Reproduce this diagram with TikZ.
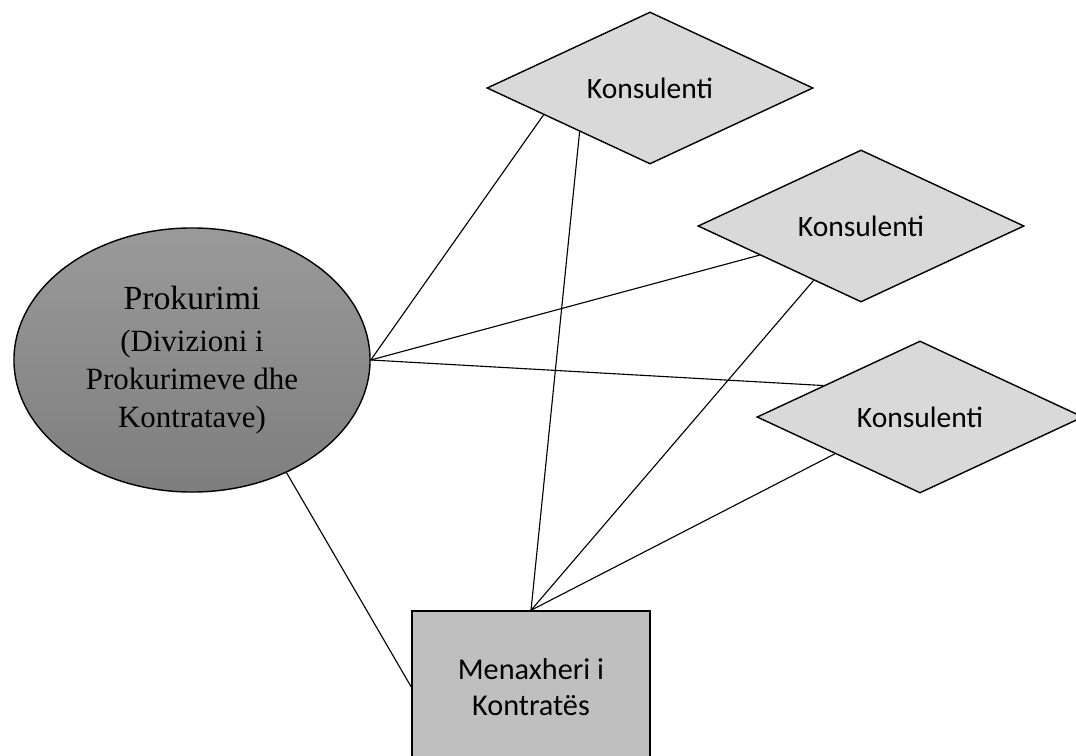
\documentclass[tikz,border=0pt]{standalone}
\usepackage{fontspec}
\setmainfont{Liberation Serif}
\newfontfamily\calibri{Carlito}
\usetikzlibrary{shapes.geometric,calc}
\definecolor{elltop}{HTML}{9A9A9A}
\definecolor{ellbot}{HTML}{7E7E7E}
\definecolor{diamgray}{HTML}{D9D9D9}
\definecolor{boxgray}{HTML}{BFBFBF}
\tikzset{
  konsulent/.style={diamond,draw,line width=1pt,fill=diamgray,inner sep=0pt,shape aspect=2.15,
    minimum width=8.15cm,minimum height=3.8cm,font=\calibri\fontsize{21}{25}\selectfont},
  menaxher/.style={rectangle,draw,line width=1pt,fill=boxgray,inner sep=0pt,align=center,
    minimum width=5.95cm,minimum height=3.8cm,font=\calibri\fontsize{21.5}{25.5}\selectfont},
  prokurim/.style={ellipse,draw,line width=1pt,top color=elltop,bottom color=ellbot,inner sep=0pt,
    align=center,minimum width=8.9cm,minimum height=6.6cm,font=\fontsize{22}{27}\selectfont},
  lidhje/.style={line width=0.8pt}
}
\begin{document}
\begin{tikzpicture}[x=0.025cm,y=-0.025cm]
\clip(0,0)rectangle(1076,755);

%procurement division
\node[prokurim](ell)at(192,360){{\fontsize{24}{28}\selectfont Prokurimi}\\[3pt](Divizioni i\\Prokurimeve dhe\\Kontratave)};

%consultants
\node[konsulent](k1)at(650,88){Konsulenti};
\node[konsulent](k2)at(861,226){Konsulenti};
\node[konsulent](k3)at(920,417){Konsulenti};

%contract manager
\node[menaxher](men)at(531,687){Menaxheri i\\Kontratës};

%end points on the diamond edges
\coordinate(k1a)at($(k1.west)!.35!(k1.south)$);
\coordinate(k1b)at($(k1.west)!.57!(k1.south)$);
\coordinate(k2a)at($(k2.west)!.38!(k2.south)$);
\coordinate(k2b)at($(k2.west)!.71!(k2.south)$);
\coordinate(k3a)at($(k3.west)!.41!(k3.north)$);
\coordinate(k3b)at($(k3.west)!.48!(k3.south)$);

%connections
\draw[lidhje](ell.east)--(k1a);
\draw[lidhje](ell.east)--(k2a);
\draw[lidhje](ell.east)--(k3a);
\draw[lidhje](ell.-50)--(men.west);
\draw[lidhje](men.north)--(k1b);
\draw[lidhje](men.north)--(k2b);
\draw[lidhje](men.north)--(k3b);
\end{tikzpicture}
\end{document}
